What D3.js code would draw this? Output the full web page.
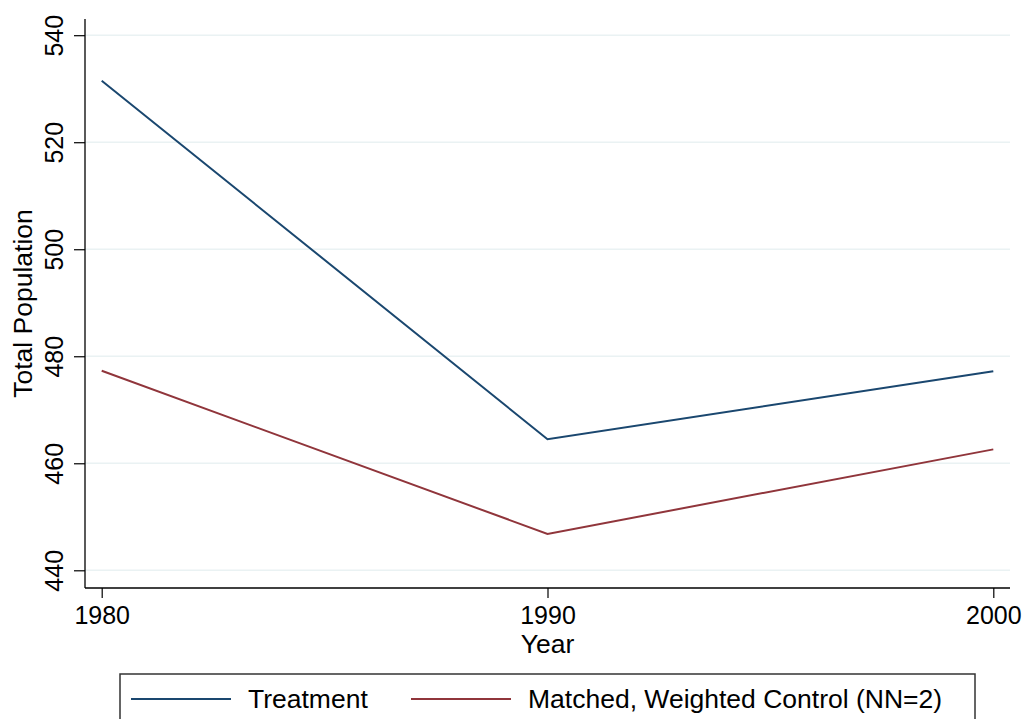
<!DOCTYPE html>
<html>
<head>
<meta charset="utf-8">
<script src="https://cdn.jsdelivr.net/npm/d3@7"></script>
<style>
  html, body { margin: 0; padding: 0; background: #fff; }
  svg { display: block; }
  text { font-family: "Liberation Sans", Arial, Helvetica, sans-serif; fill: #000; }
</style>
</head>
<body>
<svg id="chart" width="1025" height="719"></svg>
<script>
const years = [1980, 1990, 2000];
const treatment = [531.5, 464.5, 477.2];
const control = [477.3, 446.8, 462.6];
const yTicks = [440, 460, 480, 500, 520, 540];
const seriesNames = ["Treatment", "Matched, Weighted Control (NN=2)"];
const seriesColors = ["#1a476f", "#90353b"];

const svg = d3.select("#chart");
const plotLeft = 85, plotRight = 1010, plotTop = 19, plotBottom = 588;

const x = d3.scaleLinear().domain([1980, 2000]).range([101.7, 993.3]);
const y = d3.scaleLinear().domain([440, 540]).range([570.3, 35.2]);

// gridlines
svg.append("g").selectAll("line").data(yTicks).join("line")
  .attr("x1", plotLeft).attr("x2", plotRight)
  .attr("y1", d => y(d)).attr("y2", d => y(d))
  .attr("stroke", "#eaf2f3").attr("stroke-width", 1.6);

// y axis
const yAxis = svg.append("g").attr("transform", `translate(${plotLeft},0)`)
  .call(d3.axisLeft(y).tickValues(yTicks).tickSize(11).tickPadding(0).tickFormat(d3.format("d")));
yAxis.select(".domain").remove();
yAxis.selectAll(".tick line").attr("stroke", "#000").attr("stroke-width", 1.2);
yAxis.selectAll(".tick text")
  .attr("x", null).attr("dy", null)
  .attr("transform", "translate(-22,0) rotate(-90)")
  .attr("text-anchor", "middle")
  .attr("y", 0)
  .style("font-size", "25px");
svg.append("line").attr("x1", plotLeft).attr("x2", plotLeft)
  .attr("y1", plotTop).attr("y2", plotBottom).attr("stroke", "#000").attr("stroke-width", 1.3);

// x axis
const xAxis = svg.append("g").attr("transform", `translate(0,${plotBottom})`)
  .call(d3.axisBottom(x).tickValues(years).tickSize(10).tickPadding(0).tickFormat(d3.format("d")));
xAxis.select(".domain").remove();
xAxis.selectAll(".tick line").attr("stroke", "#000").attr("stroke-width", 1.2);
xAxis.selectAll(".tick text")
  .attr("dy", null).attr("y", 36)
  .style("font-size", "25px");
svg.append("line").attr("x1", plotLeft).attr("x2", plotRight)
  .attr("y1", plotBottom).attr("y2", plotBottom).attr("stroke", "#000").attr("stroke-width", 1.3);

// axis titles
svg.append("text").attr("x", (x(1980) + x(2000)) / 2).attr("y", 653)
  .attr("text-anchor", "middle").style("font-size", "26.5px").text("Year");
svg.append("text")
  .attr("transform", `translate(32,${(plotTop + plotBottom) / 2}) rotate(-90)`)
  .attr("text-anchor", "middle").style("font-size", "26.5px").text("Total Population");

// lines
const line = d3.line().x((d, i) => x(years[i])).y(d => y(d));
[treatment, control].forEach((s, i) => {
  svg.append("path").datum(s).attr("d", line)
    .attr("fill", "none").attr("stroke", seriesColors[i]).attr("stroke-width", 2);
});

// legend
svg.append("rect").attr("x", 120).attr("y", 674).attr("width", 855).attr("height", 80)
  .attr("fill", "#fff").attr("stroke", "#333").attr("stroke-width", 1.5);
const legX = [[131, 231, 248], [411, 511, 528]];
seriesNames.forEach((n, i) => {
  svg.append("line").attr("x1", legX[i][0]).attr("x2", legX[i][1])
    .attr("y1", 699).attr("y2", 699)
    .attr("stroke", seriesColors[i]).attr("stroke-width", 2);
  svg.append("text").attr("x", legX[i][2]).attr("y", 708)
    .style("font-size", "26.5px").text(n);
});
</script>
</body>
</html>
